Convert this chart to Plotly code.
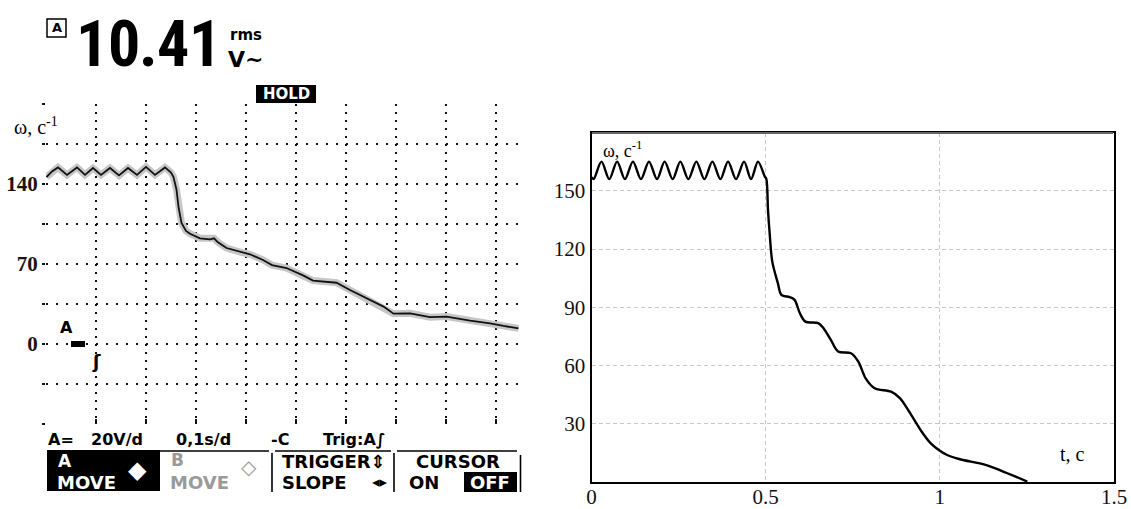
import plotly.graph_objects as go

W, H = 1131, 509

# ---------------- data ----------------
# oscilloscope record (left): time, s  /  angular speed, 1/s
scope_t = [0.001, 0.012, 0.024, 0.042, 0.062, 0.078, 0.094, 0.110, 0.128, 0.146,
           0.164, 0.182, 0.200, 0.218, 0.238, 0.250, 0.255, 0.261, 0.265, 0.271,
           0.280, 0.288, 0.308, 0.328, 0.336, 0.344, 0.361, 0.388, 0.408, 0.434,
           0.452, 0.481, 0.500, 0.514, 0.534, 0.581, 0.608, 0.641, 0.675, 0.695,
           0.728, 0.768, 0.801, 0.848, 0.888, 0.915, 0.945]
scope_w = [146, 151, 154.5, 148, 154.5, 148, 154, 148, 154, 147.5,
           154, 148, 155, 148, 154.5, 150, 146, 135, 120, 106,
           99, 96.5, 92.5, 91.5, 92.5, 89, 84, 80.5, 78.5, 73.5,
           69, 66.5, 63, 60, 55.5, 53.6, 47.3, 40, 32.7, 26.5,
           26.8, 23.5, 24, 20.4, 18.1, 15.8, 13.7]
scope_ygrid = [-70, -35, 0, 35, 70, 105, 140, 175, 210]
scope_ylabels = ["", "", "0", "", "70", "", "140", "", ""]
scope_xgrid = [0.0, 0.1, 0.2, 0.3, 0.4, 0.5, 0.6, 0.7, 0.8, 0.9]

# simulation (right)
sim_t = [0.0, 0.006, 0.0286, 0.051, 0.0735, 0.096, 0.119, 0.142, 0.165, 0.188,
         0.210, 0.233, 0.255, 0.278, 0.301, 0.324, 0.347, 0.370, 0.392, 0.415,
         0.438, 0.458, 0.478, 0.497, 0.502, 0.5067, 0.5115, 0.519, 0.535, 0.545,
         0.569, 0.583, 0.598, 0.614, 0.651, 0.666, 0.687, 0.708, 0.745, 0.766,
         0.787, 0.813, 0.860, 0.886, 0.912, 0.948, 0.974, 1.0, 1.021, 1.058,
         1.131, 1.194, 1.251]
sim_w = [157, 156, 165, 156, 165, 156, 165, 156, 165, 156,
         165, 156, 165, 156, 165, 156, 165, 156, 165, 156,
         165, 156, 165, 157.5, 156, 140, 128, 113.5, 102.4, 96.4,
         95.2, 93.8, 87, 82.6, 81.8, 79.2, 73.2, 67.2, 66.3, 62,
         53.4, 48.3, 46.5, 43.1, 36.2, 25.9, 19.9, 16.1, 13.9, 11.7,
         8.8, 4.5, 0.2]
sim_xticks = [0, 0.5, 1, 1.5]
sim_xlabels = ["0", "0.5", "1", "1.5"]
sim_yticks = [30, 60, 90, 120, 150]
sim_ylabels = ["30", "60", "90", "120", "150"]

reading = "10.41"


def X(p):
    return p / W


def Y(p):
    return 1 - p / H


SCOPE = "DejaVu Sans"
SERIF = "Liberation Serif, Times New Roman, serif"
NARROW = "Roboto Condensed, Liberation Sans Narrow, DejaVu Sans Condensed, sans-serif"

fig = go.Figure()

# left: oscilloscope trace with grey halo
fig.add_trace(go.Scatter(x=scope_t, y=scope_w, mode="lines", xaxis="x", yaxis="y",
                         line=dict(color="#c6c6c6", width=7), hoverinfo="skip"))
fig.add_trace(go.Scatter(x=scope_t, y=scope_w, mode="lines", xaxis="x", yaxis="y",
                         line=dict(color="#111111", width=1.8), hoverinfo="skip"))
# right: simulated curve
fig.add_trace(go.Scatter(x=sim_t, y=sim_w, mode="lines", xaxis="x2", yaxis="y2",
                         line=dict(color="black", width=2.4, shape="spline", smoothing=0.9),
                         hoverinfo="skip"))

ann = []


def txt(s, x, y, size, family=SCOPE, color="black", xa="left", ya="middle", bold=True):
    ann.append(dict(text=("<b>%s</b>" % s) if bold else s, x=X(x), y=Y(y), xref="paper", yref="paper",
                    xanchor=xa, yanchor=ya, showarrow=False,
                    font=dict(family=family, size=size, color=color)))


# header
char_centres = [92, 124, 148.5, 172.5, 205]
for ch, cx in zip(reading, char_centres):
    txt(ch, cx, 44, 64, family=NARROW, xa="center")
txt("rms", 228, 35, 15)
txt("V~", 226, 59, 22)
txt("A", 57, 28, 13, xa="center")
txt("HOLD", 286, 94, 15, color="white", xa="center")

# scope overlays
txt("ω, c<sup>-1</sup>", 12, 126, 20, family=SERIF, bold=False)
txt("A", 58, 327, 16)
txt("ʃ", 96, 361, 18, xa="center")

# status line
txt("A=", 46, 439, 16)
txt("20V/d", 89, 439, 16)
txt("0,1s/d", 174, 439, 16)
txt("-C", 269, 439, 16)
txt("Trig:A∫", 321, 439, 16)

# menu
txt("A", 56, 461, 17, color="white")
txt("MOVE", 55, 482, 18, color="white")
txt("◆", 137, 470, 24, color="white", xa="center")
txt("B", 169, 460, 17, color="#9a9a9a")
txt("MOVE", 168, 482, 18, color="#9a9a9a")
txt("◇", 249, 467, 20, color="#9a9a9a", xa="center")
txt("TRIGGER⇕", 280, 461, 18)
txt("SLOPE", 280, 482, 18)
txt("◂▸", 380, 482, 15, xa="center")
txt("CURSOR", 458, 461, 18, xa="center")
txt("ON", 407, 482, 18)
txt("OFF", 490, 482, 18, color="white", xa="center")

# right chart labels
txt("ω, c<sup>-1</sup>", 601, 150, 18, family=SERIF, bold=False)
txt("t, c", 1058, 454, 20, family=SERIF, bold=False)

shapes = []


def rect(x0, y0, x1, y1, fill="black", line=None):
    shapes.append(dict(type="rect", xref="paper", yref="paper", x0=X(x0), y0=Y(y1), x1=X(x1), y1=Y(y0),
                       fillcolor=fill, line=dict(width=0) if line is None else line, layer="above"))


def seg(x0, y0, x1, y1, w=2, color="black"):
    shapes.append(dict(type="line", xref="paper", yref="paper", x0=X(x0), y0=Y(y0), x1=X(x1), y1=Y(y1),
                       line=dict(color=color, width=w), layer="above"))


rect(47, 19, 66, 37, fill="rgba(0,0,0,0)", line=dict(color="black", width=1.5))
rect(256, 85, 316, 103)
rect(71, 341, 85, 347)
rect(47, 450, 160, 491)
rect(464, 472, 517, 492)
seg(160, 451, 269, 451, 1.6)
seg(275, 451, 391, 451, 1.6)
seg(397, 451, 517, 451, 1.6)
seg(272, 453, 272, 492, 1.6)
seg(394, 453, 394, 492, 1.6)
seg(520.5, 455, 520.5, 492, 1.6)
seg(592, 133, 1113, 133, 2, "#666666")

fig.update_layout(
    width=W, height=H, margin=dict(l=0, r=0, t=0, b=0, autoexpand=False),
    paper_bgcolor="white", plot_bgcolor="white", showlegend=False,
    annotations=ann, shapes=shapes,
    xaxis=dict(domain=[X(46), X(521)], range=[0, 0.95], tickvals=scope_xgrid,
               ticktext=[""] * len(scope_xgrid), showgrid=True, gridcolor="#111111",
               gridwidth=2, griddash="2px,6px", zeroline=False, showline=False,
               ticks="inside", ticklen=5, tickwidth=2, tickcolor="#111111", anchor="y",
               automargin=False, fixedrange=True),
    yaxis=dict(domain=[Y(424), Y(104)], range=[-70, 210], tickvals=scope_ygrid,
               ticktext=scope_ylabels, showgrid=True, gridcolor="#111111", gridwidth=2,
               griddash="2px,8px", zeroline=False, showline=False, ticks="outside",
               ticklen=3, tickwidth=2, tickcolor="#111111", anchor="x",
               tickfont=dict(family=SERIF, size=21, color="#1a1410", weight="bold"),
               automargin=False, fixedrange=True),
    xaxis2=dict(domain=[X(591.5), X(1114)], range=[0, 1.5], tickvals=sim_xticks,
                ticktext=sim_xlabels, showgrid=True, gridcolor="#c8c8c8", gridwidth=1,
                griddash="4px,3px", zeroline=False, showline=True, mirror=True,
                linecolor="black", linewidth=2, ticks="", anchor="y2", ticklabelstandoff=-5,
                tickfont=dict(family=SERIF, size=21, color="#111111"),
                automargin=False, fixedrange=True),
    yaxis2=dict(domain=[Y(482), Y(132.5)], range=[0, 180], tickvals=sim_yticks,
                ticktext=sim_ylabels, showgrid=True, gridcolor="#c8c8c8", gridwidth=1,
                griddash="4px,3px", zeroline=False, showline=True, mirror=True,
                linecolor="black", linewidth=2, ticks="", anchor="x2",
                tickfont=dict(family=SERIF, size=21, color="#111111"),
                automargin=False, fixedrange=True),
)

fig.write_html("out.html", config={"displayModeBar": False},
               post_script="document.body.style.margin='0';document.body.style.overflow='hidden';")
